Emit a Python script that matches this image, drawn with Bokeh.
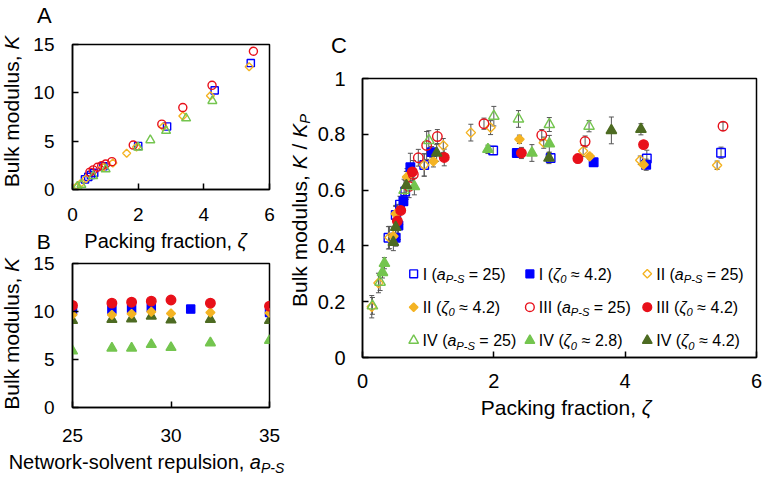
import math
from bokeh.plotting import figure
from bokeh.models import (Range1d, FixedTicker, CustomJSTickFormatter, Label, Whisker,
                          ColumnDataSource, TeeHead)
from bokeh.layouts import column, row
from bokeh.embed import file_html
from bokeh.resources import INLINE

FONT = "Liberation Sans"

BLUE = "#0000FF"
ORANGE = "#F4B323"
RED = "#E8101A"
LGREEN = "#74C54F"
DGREEN = "#4D6B22"
ERR = "#555555"

# ---------------- Panel A data (K vs packing fraction) ----------------
A_I_X = [0.38, 0.48, 0.56, 0.66, 0.94, 2.0, 2.88, 4.33, 5.43]
A_I_Y = [1.05, 1.3, 1.5, 1.72, 2.4, 4.5, 6.52, 10.26, 13.08]
A_II_X = [0.14, 0.24, 0.41, 0.94, 1.23, 1.65, 1.95, 2.76, 3.36, 4.2, 5.38]
A_II_Y = [0.35, 0.6, 1.1, 2.3, 2.75, 3.75, 4.4, 6.5, 7.6, 9.7, 12.7]
A_III_X = [0.53, 0.63, 0.76, 0.89, 1.01, 1.2, 1.85, 2.72, 3.36, 4.25, 5.51]
A_III_Y = [1.79, 2.03, 2.3, 2.47, 2.64, 2.88, 4.6, 6.76, 8.48, 10.78, 14.3]
A_IV_X = [0.15, 0.27, 0.63, 1.01, 2.0, 2.37, 2.85, 3.46, 4.26]
A_IV_Y = [0.3, 0.5, 1.4, 2.1, 4.36, 5.11, 6.08, 7.38, 9.17]

# ---------------- Panel B data (K vs a_P-S) ----------------
B_I_X = [25, 27, 28, 29, 31, 35]
B_I_Y = [10.1, 10.2, 10.3, 10.4, 10.25, 9.9]
B_X = [25, 27, 28, 29, 30, 32, 35]
B_II_Y = [9.65, 9.65, 9.76, 9.97, 9.8, 9.9, 9.85]
B_III_Y = [10.63, 10.87, 10.97, 11.08, 11.2, 10.87, 10.55]
B_IV28_Y = [5.9, 6.18, 6.18, 6.56, 6.25, 6.74, 6.98]
B_IV42_Y = [9.06, 9.17, 9.24, 9.51, 9.13, 9.17, 9.06]

# ---------------- Panel C data (K/K_P vs packing fraction) ----------------
C_IA_X = [0.395, 0.506, 0.571, 0.65, 0.94, 1.99, 2.865, 4.33, 5.46]
C_IA_Y = [0.429, 0.511, 0.548, 0.595, 0.69, 0.742, 0.715, 0.713, 0.734]
C_IA_E = [0.04, 0.03, 0.03, 0.04, 0.04, 0.015, 0.015, 0.03, 0.02]
C_IZ_X = [0.506, 0.547, 0.623, 0.729, 1.053, 2.35, 3.52, 4.32]
C_IZ_Y = [0.429, 0.473, 0.560, 0.682, 0.736, 0.733, 0.70, 0.691]
C_IZ_E = [0.03, 0.05, 0.03, 0.05, 0.02, 0.01, 0.01, 0.02]
C_IIA_X = [0.141, 0.243, 0.41, 0.94, 1.23, 1.65, 1.95, 2.76, 3.36, 4.23, 5.40]
C_IIA_Y = [0.182, 0.267, 0.43, 0.69, 0.760, 0.806, 0.824, 0.770, 0.74, 0.707, 0.689]
C_IIA_E = [0.04, 0.035, 0.04, 0.04, 0.025, 0.03, 0.025, 0.02, 0.02, 0.015, 0.015]
C_IIZ_X = [0.47, 0.506, 0.678, 1.08, 2.39, 3.46, 4.28]
C_IIZ_Y = [0.435, 0.515, 0.647, 0.703, 0.782, 0.721, 0.691]
C_IIZ_E = [0.03, 0.03, 0.03, 0.02, 0.015, 0.01, 0.015]
C_IIIA_X = [0.709, 0.774, 0.85, 0.977, 1.14, 1.85, 2.73, 3.39, 5.49]
C_IIIA_Y = [0.613, 0.656, 0.716, 0.760, 0.792, 0.838, 0.797, 0.774, 0.829]
C_IIIA_E = [0.04, 0.05, 0.03, 0.05, 0.025, 0.02, 0.02, 0.02, 0.015]
C_IIIZ_X = [0.531, 0.582, 0.759, 1.245, 2.42, 3.28, 4.28]
C_IIIZ_Y = [0.489, 0.527, 0.665, 0.717, 0.733, 0.713, 0.763]
C_IIIZ_E = [0.06, 0.05, 0.03, 0.03, 0.02, 0.015, 0.01]
C_IVA_X = [0.151, 0.268, 0.633, 1.01, 2.0, 2.375, 2.845, 3.45]
C_IVA_Y = [0.185, 0.27, 0.599, 0.778, 0.865, 0.855, 0.835, 0.829]
C_IVA_E = [0.03, 0.03, 0.04, 0.035, 0.035, 0.03, 0.025, 0.02]
C_IV28_X = [0.304, 0.334, 0.79, 1.91, 2.58, 2.845]
C_IV28_Y = [0.305, 0.338, 0.613, 0.746, 0.733, 0.766]
C_IV28_E = [0.02, 0.02, 0.03, 0.015, 0.03, 0.03]
C_IV42_X = [0.47, 0.506, 0.668, 1.129, 2.84, 3.79, 4.24]
C_IV42_Y = [0.413, 0.467, 0.617, 0.733, 0.715, 0.814, 0.818]
C_IV42_E = [0.03, 0.05, 0.05, 0.03, 0.02, 0.048, 0.02]

A_XTICKS = [0, 2, 4, 6]
A_YTICKS = [0, 5, 10, 15]
B_XTICKS = [25, 30, 35]
B_YTICKS = [0, 5, 10, 15]
C_XTICKS = [0, 2, 4, 6]
C_YTICKS = [0, 0.2, 0.4, 0.6, 0.8, 1.0]

LEG_NAMES = ["I", "I", "II", "II", "III", "III", "IV", "IV", "IV"]
LEG_VALS = [None, "4.2", None, "4.2", None, "4.2", None, "2.8", "4.2"]

# ---------------- geometry (page pixels, origin top-left) ----------------
XR_A, YR_A = (0, 6), (0, 15)
XR_B, YR_B = (25, 35), (0, 15)
XR_C, YR_C = (0, 6), (0, 1)
FR_A = (72, 269, 44, 189)      # frame left, right, top, bottom
FR_B = (72, 269, 263, 407)
FR_C = (361, 756, 78, 357)
# canvases (x, y, w, h)
CV_A = (22, 28, 264, 201)
CV_B = (22, 252, 264, 198)
CV_C = (314, 60, 448, 336)

AW = {' ': 278, '(': 333, ')': 333, ',': 278, '-': 333, '.': 278, '/': 278, '=': 584,
      '\u2248': 584, '\u03b6': 449,
      'A': 667, 'B': 667, 'C': 722, 'I': 278, 'K': 667, 'N': 722, 'P': 667, 'S': 667, 'V': 667,
      'a': 556, 'c': 500, 'd': 556, 'e': 556, 'f': 278, 'g': 556, 'i': 222, 'k': 500, 'l': 222,
      'm': 833, 'n': 556, 'o': 556, 'p': 556, 'r': 333, 's': 500, 't': 278, 'u': 556, 'v': 500,
      'w': 722}


def tw(s, size):
    return sum(AW.get(c, 556) for c in s) * size / 1000.0


SUB = 0.7
MID = 0.35   # distance from the alphabetic baseline to the middle of the text box, in em


class Box:
    """A figure together with the page position of its frame and its data ranges."""
    def __init__(self, p, fr, xr, yr):
        self.p, self.fr, self.xr, self.yr = p, fr, xr, yr

    def to_data(self, px, py):
        l, r, t, b = self.fr
        xr, yr = self.xr, self.yr
        return (xr[0] + (px - l) / (r - l) * (xr[1] - xr[0]),
                yr[0] + (b - py) / (b - t) * (yr[1] - yr[0]))


def put(box, pieces, px, py, size, align="left", vertical=False):
    """Place rich text (pieces of normal / italic / subscript text) with its baseline at py
    (or at x = px for text rotated to read upwards); each piece is centred on its own box."""
    sizes = [size * (SUB if k == "s" else 1) for _, _, k in pieces]
    total = sum(tw(s, fs) for (s, _, _), fs in zip(pieces, sizes))
    acc = -total / 2 if align == "center" else 0.0
    for (s, st, k), fs in zip(pieces, sizes):
        drop = size * (0.17 if vertical else 0.2) if k == "s" else 0.0
        lead = len(s) - len(s.lstrip())
        core = s.strip()
        mid_along = acc + tw(s[:lead], fs) + tw(core, fs) / 2
        if vertical:
            X, Y, ang = px + drop - MID * fs, py - mid_along, math.pi / 2
        else:
            X, Y, ang = px + mid_along, py + drop - MID * fs, 0.0
        xd, yd = box.to_data(X, Y)
        box.p.add_layout(Label(x=xd, y=yd, text=core, angle=ang, text_font=FONT,
                               text_font_size=f"{fs:.1f}px", text_font_style=st,
                               text_align="center", text_baseline="middle",
                               text_color="black"))
        acc += tw(s, fs)


def strip(x, y, w, h):
    p = figure(width=w, height=h, x_range=Range1d(0, w), y_range=Range1d(0, h),
               output_backend="svg", toolbar_location=None, title=None,
               min_border=0, min_border_left=0, min_border_right=0,
               min_border_top=0, min_border_bottom=0,
               x_axis_location=None, y_axis_location=None, outline_line_color=None,
               border_fill_color="white", background_fill_color="white")
    p.grid.visible = False
    return Box(p, (x, x + w, y, y + h), (0, w), (0, h))


def panel(cv, fr, xr, yr, xticks, yticks, tsize, xstand, ystand):
    ox, oy, w, h = cv
    l, r, t, b = fr
    p = figure(width=w, height=h, x_range=Range1d(*xr), y_range=Range1d(*yr),
               output_backend="svg", toolbar_location=None, title=None,
               min_border_left=l - ox, min_border_right=ox + w - r,
               min_border_top=t - oy, min_border_bottom=oy + h - b,
               border_fill_color="white", background_fill_color="white")
    p.outline_line_color = "black"
    p.outline_line_width = 1.5
    p.grid.visible = False
    for ax, ticks, st in ((p.xaxis[0], xticks, xstand), (p.yaxis[0], yticks, ystand)):
        ax.ticker = FixedTicker(ticks=ticks)
        ax.major_tick_in = 6
        ax.major_tick_out = 0
        ax.minor_tick_line_color = None
        ax.major_tick_line_color = "black"
        ax.major_tick_line_width = 1.5
        ax.axis_line_color = "black"
        ax.axis_line_width = 1.5
        ax.major_label_text_font = FONT
        ax.major_label_text_font_size = tsize
        ax.major_label_text_color = "black"
        ax.major_label_standoff = st
    return Box(p, fr, xr, yr)


def marker_kw(marker, color, filled, scale=1.0):
    base = {"square": 8.5, "diamond": 6.6, "circle": 9.5, "triangle": 10.5}
    kw = dict(size=base[marker] * scale, line_color=color, line_width=1.4,
              fill_color=color if filled else None)
    if marker == "diamond":
        kw.update(marker="square", angle=math.pi / 4)
    else:
        kw["marker"] = marker
    return kw


bA = panel(CV_A, FR_A, XR_A, YR_A, A_XTICKS, A_YTICKS, "19px", 18, 18)
bB = panel(CV_B, FR_B, XR_B, YR_B, B_XTICKS, B_YTICKS, "19px", 21, 18)
bC = panel(CV_C, FR_C, XR_C, YR_C, C_XTICKS, C_YTICKS, "20px", 16, 17)
bC.p.yaxis[0].formatter = CustomJSTickFormatter(code="return String(Math.round(tick*10)/10)")
pA, pB, pC = bA.p, bB.p, bC.p

# text strips around the panels
sTopA = strip(0, 0, 286, 28)
sYA = strip(0, 28, 22, 201)
sMid = strip(0, 229, 286, 23)
sYB = strip(0, 252, 22, 198)
sBotB = strip(0, 450, 286, 27)
sTopC = strip(286, 0, 476, 60)
sYC = strip(286, 60, 28, 336)
sBotC = strip(286, 396, 476, 81)

# ---- Panel A ----
for x, y, mk, col in ((A_I_X, A_I_Y, "square", BLUE), (A_II_X, A_II_Y, "diamond", ORANGE),
                      (A_III_X, A_III_Y, "circle", RED), (A_IV_X, A_IV_Y, "triangle", LGREEN)):
    pA.scatter(x=x, y=y, **marker_kw(mk, col, False, 0.85))

# ---- Panel B ----
pB.scatter(x=B_I_X, y=B_I_Y, **marker_kw("square", BLUE, True, 0.95))
pB.scatter(x=B_X, y=B_IV28_Y, **marker_kw("triangle", LGREEN, True, 0.95))
pB.scatter(x=B_X, y=B_IV42_Y, **marker_kw("triangle", DGREEN, True, 0.95))
pB.scatter(x=B_X, y=B_II_Y, **marker_kw("diamond", ORANGE, True, 0.95))
pB.scatter(x=B_X, y=B_III_Y, **marker_kw("circle", RED, True, 1.0))

# ---- Panel C ----
C_SERIES = [
    (C_IA_X, C_IA_Y, C_IA_E, "square", BLUE, False),
    (C_IZ_X, C_IZ_Y, C_IZ_E, "square", BLUE, True),
    (C_IIA_X, C_IIA_Y, C_IIA_E, "diamond", ORANGE, False),
    (C_IIZ_X, C_IIZ_Y, C_IIZ_E, "diamond", ORANGE, True),
    (C_IIIA_X, C_IIIA_Y, C_IIIA_E, "circle", RED, False),
    (C_IIIZ_X, C_IIIZ_Y, C_IIIZ_E, "circle", RED, True),
    (C_IVA_X, C_IVA_Y, C_IVA_E, "triangle", LGREEN, False),
    (C_IV28_X, C_IV28_Y, C_IV28_E, "triangle", LGREEN, True),
    (C_IV42_X, C_IV42_Y, C_IV42_E, "triangle", DGREEN, True),
]
for x, y, e, mk, col, filled in C_SERIES:
    src = ColumnDataSource(dict(x=x, lo=[a - b for a, b in zip(y, e)], hi=[a + b for a, b in zip(y, e)]))
    pC.add_layout(Whisker(base="x", lower="lo", upper="hi", source=src, level="underlay",
                          line_color=ERR, line_width=1,
                          upper_head=TeeHead(size=5, line_color=ERR, line_width=1),
                          lower_head=TeeHead(size=5, line_color=ERR, line_width=1)))
for x, y, e, mk, col, filled in C_SERIES:
    pC.scatter(x=x, y=y, **marker_kw(mk, col, filled))

# ---- Legend of panel C (manual, for sub-scripted labels) ----
LEG_ROWS = [273.3, 306.7, 340.0]
LEG_COLS = [412.3, 528.8, 646.5]
for i, (x, y, e, mk, col, filled) in enumerate(C_SERIES):
    r, c = divmod(i, 3)
    mx, my = bC.to_data(LEG_COLS[c], LEG_ROWS[r])
    pC.scatter(x=[mx], y=[my], **marker_kw(mk, col, filled, 0.92))
    name, val = LEG_NAMES[i], LEG_VALS[i]
    if val is None:
        pieces = [(name + " (", "normal", "n"), ("a", "italic", "n"), ("P-S", "italic", "s"),
                  (" = 25)", "normal", "n")]
    else:
        pieces = [(name + " (", "normal", "n"), ("\u03b6", "italic", "n"), ("0", "italic", "s"),
                  (" \u2248 " + val + ")", "normal", "n")]
    put(bC, pieces, LEG_COLS[c] + 9, LEG_ROWS[r] + 6, 16)

# ---- axis labels & panel letters ----
AX = 21
put(sTopA, [("A", "normal", "n")], 43.8, 22.7, 22, align="center")
put(sYA, [("Bulk modulus, ", "normal", "n"), ("K", "italic", "n")],
    18.5, 111, AX, align="center", vertical=True)
put(sMid, [("B", "normal", "n")], 43.3, 248, 21, align="center")
put(sMid, [("Packing fraction, ", "normal", "n"), ("\u03b6", "italic", "n")],
    165, 247.5, 20, align="center")
put(sYB, [("Bulk modulus, ", "normal", "n"), ("K", "italic", "n")],
    18.5, 333.3, AX, align="center", vertical=True)
put(sBotB, [("Network-solvent repulsion, ", "normal", "n"), ("a", "italic", "n"),
            ("P-S", "italic", "s")], 146, 468.5, 20, align="center")
put(sTopC, [("C", "normal", "n")], 338.5, 52.7, 22, align="center")
put(sYC, [("Bulk modulus, ", "normal", "n"), ("K", "italic", "n"),
          (" / ", "normal", "n"), ("K", "italic", "n"), ("P", "italic", "s")],
    306.5, 210, AX, align="center", vertical=True)
put(sBotC, [("Packing fraction, ", "normal", "n"), ("\u03b6", "italic", "n")],
    565.5, 414, AX, align="center")

left = column(sTopA.p, row(sYA.p, column(pA)), sMid.p, row(sYB.p, column(pB)), sBotB.p)
right = column(sTopC.p, row(sYC.p, column(pC)), sBotC.p)
layout = row(left, right)
open("out.html", "w").write(file_html(layout, INLINE))
